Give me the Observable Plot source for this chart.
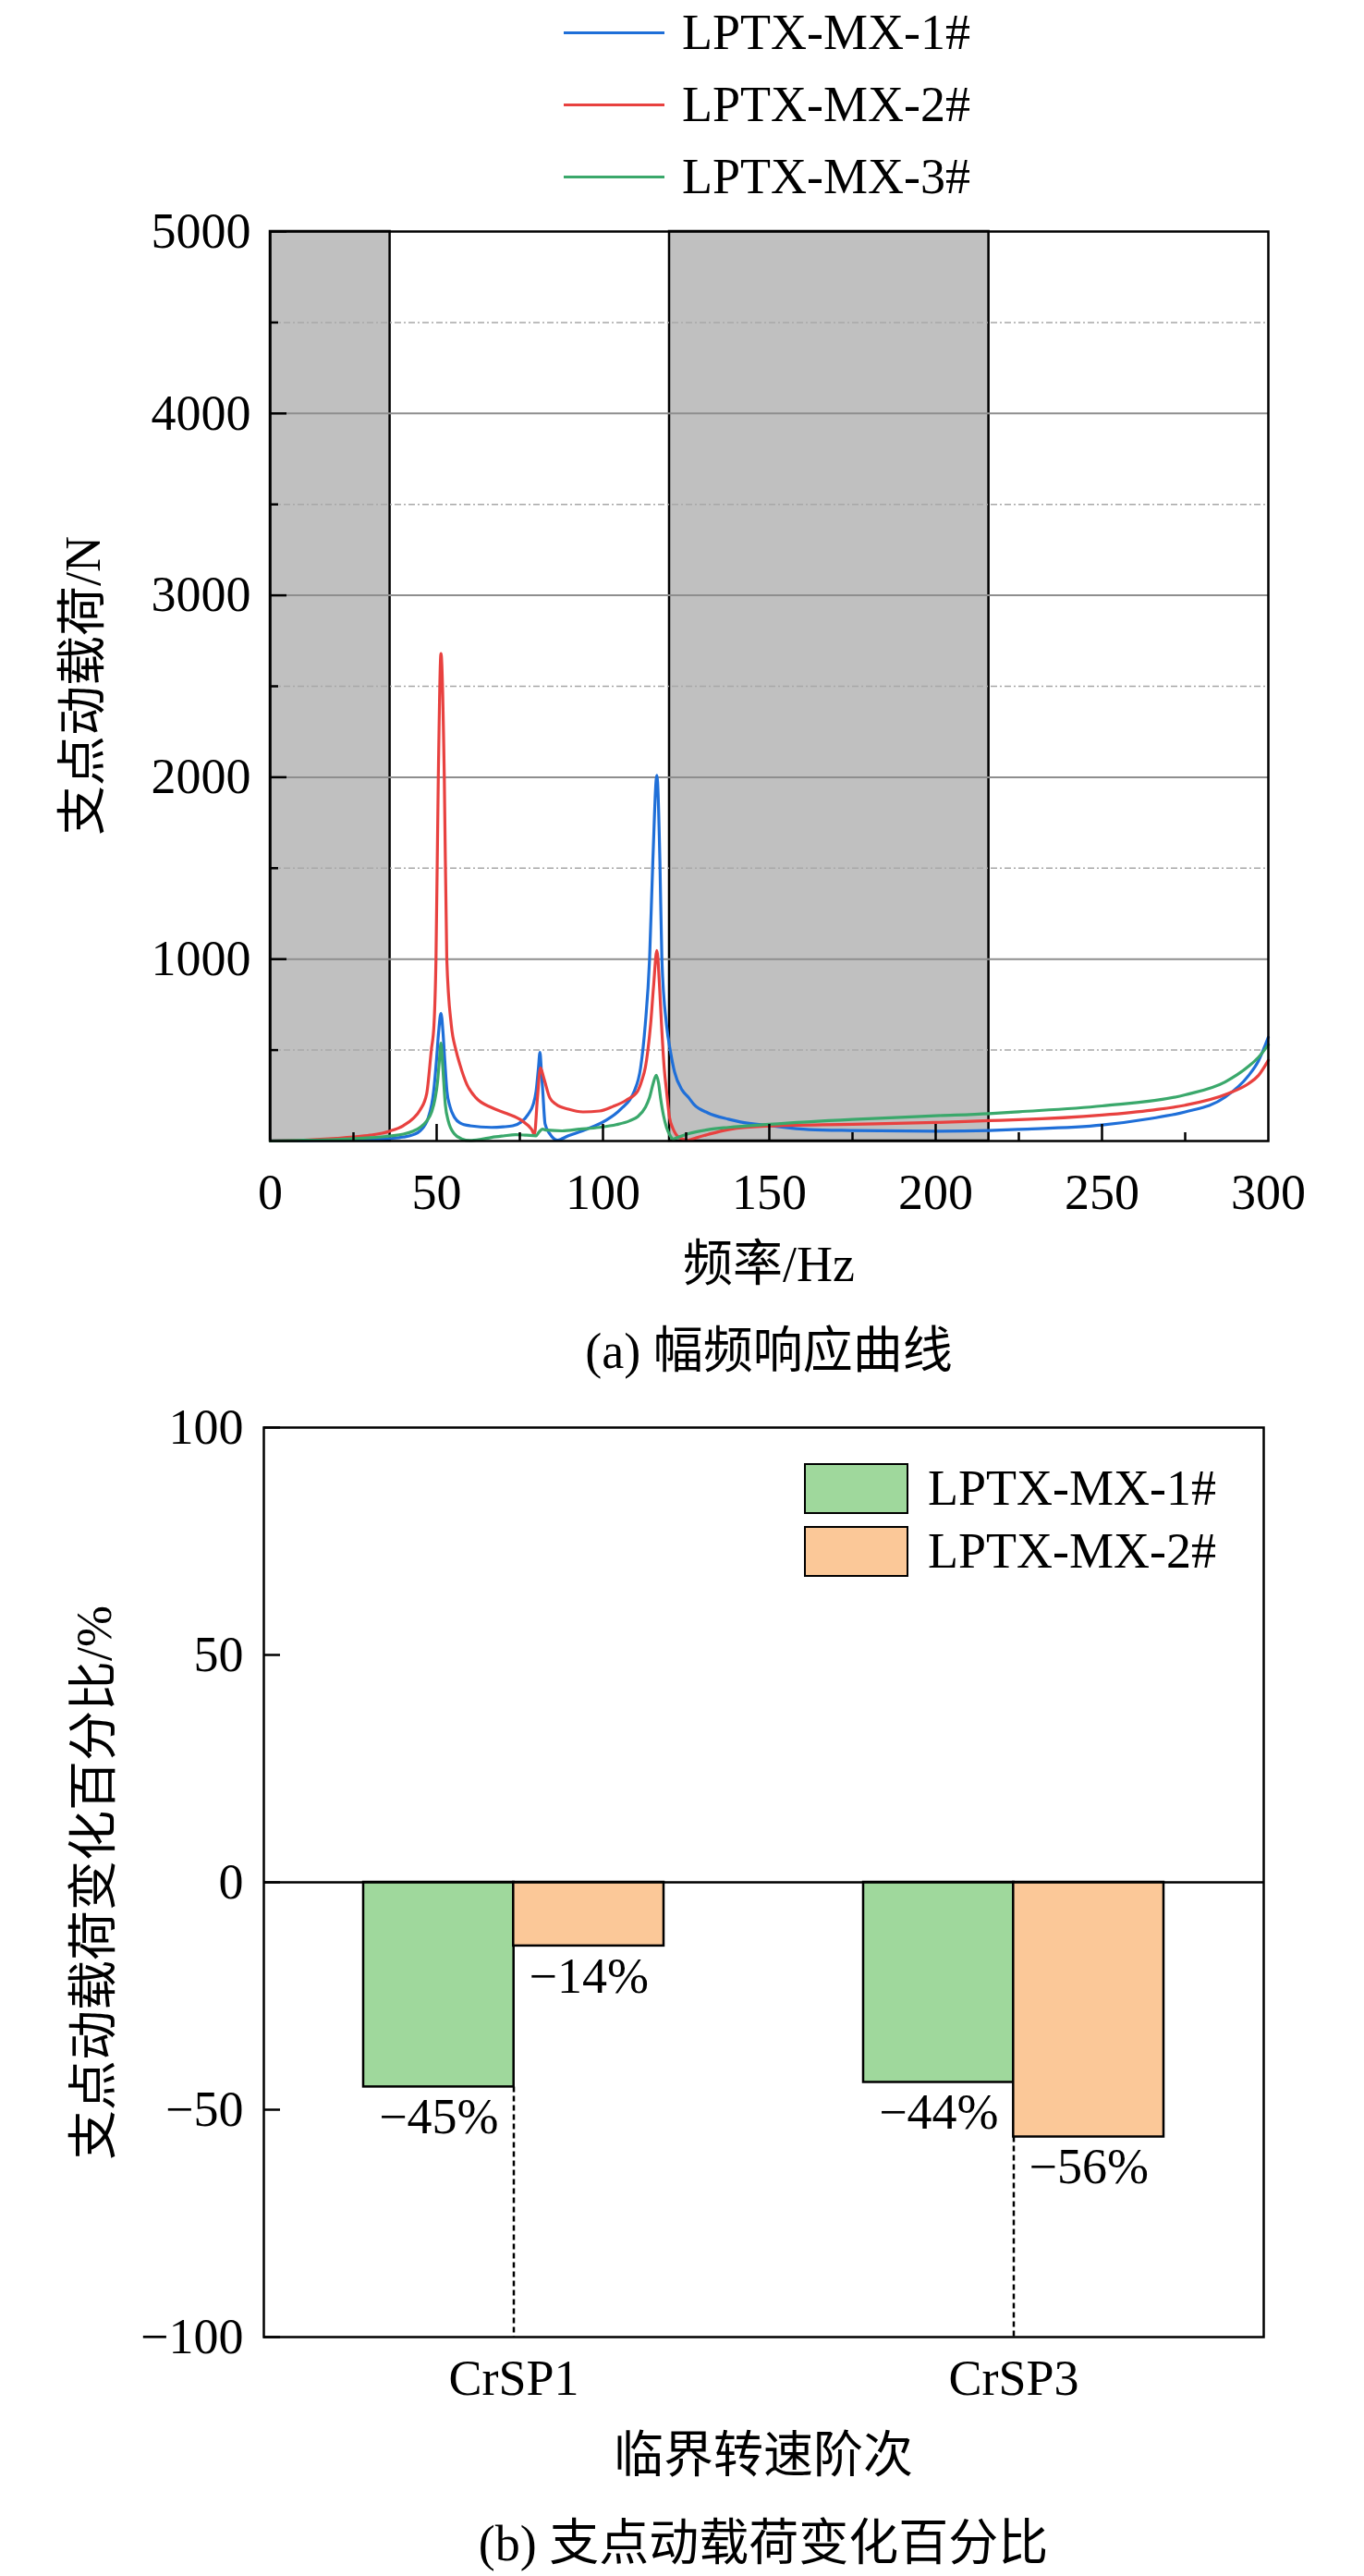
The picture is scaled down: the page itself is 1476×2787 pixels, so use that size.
<!DOCTYPE html>
<html><head><meta charset="utf-8">
<script src="https://cdn.jsdelivr.net/npm/d3@7"></script>
<script src="https://cdn.jsdelivr.net/npm/@observablehq/plot@0.6"></script>
<style>
html,body{margin:0;padding:0;background:#fff;}
#page{position:relative;width:1476px;height:2787px;overflow:hidden;font-family:"Liberation Serif","Noto Sans CJK SC",serif;color:#000;background:#fff;}
.t{position:absolute;white-space:nowrap;font-size:54px;line-height:54px;}
.t.tight{line-height:40px;}
.plot{position:absolute;left:0;}
.plot svg{overflow:visible;}
</style></head><body><div id="page"></div>
<script>
// ---------- data: (a) frequency response ----------
const seriesNames = ["LPTX-MX-1#", "LPTX-MX-2#", "LPTX-MX-3#"];
const seriesColors = ["#1f6fd8", "#e8413f", "#3aa86b"];

const blueFreq = [0,10,20,30,36,40,43,45,47.5,49.1,
  50,50.6,51.3,51.9,52.4,53.1,54,55.4,57,60,
  66.5,70,72.9,75.5,77.5,79,79.9,80.6,81.05,81.5,
  81.9,82.6,84,86.3,89.6,95.1,100.6,105.3,109.4,111.3,
  112.7,114,115,116.2,117.1,117.7,119.1,120.3,121.5,123.8,
  125.7,127.4,131.5,137.7,141.3,150,162,175,200,216,
  225,250,264,275,287,294,297,300];
const blueLoad = [0,2,4,8,14,22,35,55,129,274,
  456,600,702,600,456,274,190,129,100,84,
  75,78,84,105,147,200,274,402,487,380,
  274,93,40,5,29,65,111,175,274,402,
  638,1000,1547,2011,1547,1000,638,490,380,280,
  240,200,155,120,105,85,63,58,54,58,
  64,88,122,160,241,359,440,571];

const redFreq = [0,10,20,25,30,36,40,43,45,47,
  48.4,49.2,49.8,50.5,51.3,52.3,53.05,54.4,55.8,57,
  59.1,61.8,66.5,71.1,75.7,78.5,79.4,80.3,81.2,82.2,
  84,85.9,89.6,94,99,103,107,110.4,111.8,112.7,
  113.5,114.3,115.2,116.2,117,117.6,118.4,119.1,120,121,
  121.9,123,125.6,128,131.7,137.7,150,175,200,216,
  225,250,265,275,288,294,297,300];
const redLoad = [0,5,15,22,32,55,85,125,170,260,
  500,638,1000,2000,2680,2000,1000,638,500,420,
  311,238,184,151,111,65,38,238,402,347,
  238,202,175,160,165,190,225,274,340,402,
  500,638,850,1047,850,638,402,274,129,70,
  38,18,5,18,37,63,83,92,102,112,
  117,143,170,197,262,315,360,444];

const greenFreq = [0,10,20,30,36,40,43,45,47,48.5,
  49.5,50.3,50.8,51.3,51.8,52.6,53.5,55.4,57.5,60,
  63,66.5,70,73.8,77,79.9,80.8,81.8,83,87.7,
  93,98.8,104,108,110.5,112.7,114,115,116,116.7,
  117.3,118.2,119.1,120.2,121,122.5,125.7,131.7,137.7,150,
  175,200,216,225,250,275,287,294,297,300];
const greenLoad = [0,4,8,18,28,38,55,75,110,160,
  230,330,440,538,420,202,110,38,12,3,
  8,20,28,35,32,29,50,65,60,56,
  65,75,90,111,135,184,240,311,362,320,
  238,140,75,30,11,20,41,63,75,92,
  119,139,151,161,193,254,325,410,460,529];

const shadeStart = [0, 120];
const shadeEnd = [36, 216];
const xTicksA = [0, 50, 100, 150, 200, 250, 300];
const xMinorA = [25, 75, 125, 175, 225, 275];
const yTicksA = [1000, 2000, 3000, 4000, 5000];
const yMinorA = [500, 1500, 2500, 3500, 4500];

// ---------- data: (b) percentage change ----------
const categories = ["CrSP1", "CrSP3"];
const barSeries = ["LPTX-MX-1#", "LPTX-MX-2#"];
const barColors = ["#9fd89c", "#fbc898"];
const mx1Change = [-45, -44];
const mx2Change = [-14, -56];
const yTicksB = [-100, -50, 0, 50, 100];

// ---------- helpers ----------
const page = document.getElementById("page");
function txt(s, x, y, opts = {}) {
  const d = document.createElement("div");
  d.className = "t" + (opts.tight ? " tight" : "");
  d.textContent = s;
  d.style.left = x + "px";
  d.style.top = y + "px";
  d.style.transform = opts.rotate ? "translate(-50%,-50%) rotate(-90deg)" : (opts.left ? "translate(0,-50%)" : "translate(-50%,-50%)");
  page.appendChild(d);
  return d;
}
const minus = v => v < 0 ? "\u2212" + (-v) : String(v);
const font = "Liberation Serif, Noto Sans CJK SC, serif";

// ---------- (a) ----------
{
  const W = 1476, mL = 292, mR = 104, mT = 250, mB = 106, innerH = 984;
  const H = mT + innerH + mB, innerW = W - mL - mR;
  const shades = shadeStart.map((s, i) => ({s, e: shadeEnd[i]}));
  const lines = [[blueFreq, blueLoad], [redFreq, redLoad], [greenFreq, greenLoad]]
    .map(([f, v], k) => f.map((ff, i) => ({f: ff, v: v[i], s: seriesNames[k]})));
  const plot = Plot.plot({
    width: W, height: H, marginLeft: mL, marginRight: mR, marginTop: mT, marginBottom: mB,
    x: {domain: [0, 300]},
    y: {domain: [0, 5000]},
    style: {fontFamily: font, fontSize: "54px", color: "black", background: "transparent"},
    marks: [
      Plot.rect(shades, {x1: "s", x2: "e", y1: 0, y2: 5000, fill: "#c0c0c0", stroke: "black", strokeWidth: 2.5}),
      Plot.ruleY(yMinorA, {stroke: "#a8a8a8", strokeWidth: 1.5, strokeDasharray: "7,3,2,3"}),
      Plot.ruleY(yTicksA.slice(0, 4), {stroke: "#8e8e8e", strokeWidth: 2}),
      ...lines.map((d, k) => Plot.line(d, {x: "f", y: "v", stroke: seriesColors[k], strokeWidth: 3.2, curve: "monotone-x"})),
      Plot.tickX(xTicksA.slice(1, -1), {x: d => d, insetTop: innerH - 18, stroke: "black", strokeWidth: 2.5}),
      Plot.tickX(xMinorA, {x: d => d, insetTop: innerH - 9, stroke: "black", strokeWidth: 2.5}),
      Plot.tickY(yTicksA, {y: d => d, insetRight: innerW - 18, stroke: "black", strokeWidth: 2.5}),
      Plot.tickY(yMinorA, {y: d => d, insetRight: innerW - 9, stroke: "black", strokeWidth: 2.5}),
      Plot.axisX({ticks: xTicksA, tickSize: 0, tickPadding: 35, tickFormat: d => String(d), label: null}),
      Plot.axisY({ticks: yTicksA, tickSize: 0, tickPadding: 21, tickFormat: d => String(d), label: null}),
      Plot.frame({stroke: "black", strokeWidth: 2.5})
    ]
  });
  const wrap = document.createElement("div");
  wrap.className = "plot"; wrap.style.top = "0px";
  wrap.appendChild(plot); page.appendChild(wrap);

  // legend above
  const legY = [35, 113, 191];
  seriesNames.forEach((n, i) => {
    const l = document.createElement("div");
    l.style.cssText = `position:absolute;left:610px;top:${legY[i] - 1.5}px;width:109px;height:3px;background:${seriesColors[i]};`;
    page.appendChild(l);
    txt(n, 738, legY[i], {left: true, tight: true});
  });
  txt("支点动载荷/N", 90, 742, {rotate: true});
  txt("频率/Hz", 832, 1368);
  txt("(a) 幅频响应曲线", 832, 1462);
}

// ---------- (b) ----------
{
  const W = 1476, mL = 285, mR = 109, mT = 44, innerH = 984, mB = 100;
  const H = mT + innerH + mB, innerW = W - mL - mR;
  const pI = 0.4, pO = 0.2;
  const step = innerW / (categories.length - pI + 2 * pO);
  const bw = step * (1 - pI);
  const d1 = categories.map((c, i) => ({c, v: mx1Change[i]}));
  const d2 = categories.map((c, i) => ({c, v: mx2Change[i]}));
  const dots = categories.map((c, i) => ({c, lo: Math.min(mx1Change[i], mx2Change[i])}));
  const plot = Plot.plot({
    width: W, height: H, marginLeft: mL, marginRight: mR, marginTop: mT, marginBottom: mB,
    x: {domain: categories, paddingInner: pI, paddingOuter: pO},
    y: {domain: [-100, 100]},
    style: {fontFamily: font, fontSize: "54px", color: "black", background: "transparent"},
    marks: [
      Plot.barY(d1, {x: "c", y: "v", fill: barColors[0], stroke: "black", strokeWidth: 2.5, insetRight: bw / 2}),
      Plot.barY(d2, {x: "c", y: "v", fill: barColors[1], stroke: "black", strokeWidth: 2.5, insetLeft: bw / 2}),
      Plot.ruleX(dots, {x: "c", y1: "lo", y2: -100, stroke: "black", strokeWidth: 2.5, strokeDasharray: "6,4"}),
      Plot.ruleY([0], {stroke: "black", strokeWidth: 2.5}),
      Plot.text(d1, {x: "c", y: "v", text: d => minus(d.v) + "%", dx: -bw / 4, dy: 12, lineAnchor: "top", fontSize: 54, fill: "black"}),
      Plot.text(d2, {x: "c", y: "v", text: d => minus(d.v) + "%", dx: bw / 4, dy: 12, lineAnchor: "top", fontSize: 54, fill: "black"}),
      Plot.tickY(yTicksB, {y: d => d, insetRight: innerW - 18, stroke: "black", strokeWidth: 2.5}),
      Plot.axisX({tickSize: 0, tickPadding: 24, label: null}),
      Plot.axisY({ticks: yTicksB, tickSize: 0, tickPadding: 22, tickFormat: minus, label: null}),
      Plot.frame({stroke: "black", strokeWidth: 2.5})
    ]
  });
  const wrap = document.createElement("div");
  wrap.className = "plot"; wrap.style.top = "1500px";
  wrap.appendChild(plot); page.appendChild(wrap);

  // legend inside frame (top right)
  const boxY = [1610, 1678];
  barSeries.forEach((n, i) => {
    const b = document.createElement("div");
    b.style.cssText = `position:absolute;left:870px;top:${boxY[i] - 27.5}px;width:113px;height:55px;box-sizing:border-box;border:2.5px solid #000;background:${barColors[i]};`;
    page.appendChild(b);
    txt(n, 1004, boxY[i], {left: true});
  });
  txt("支点动载荷变化百分比/%", 102, 2037, {rotate: true});
  txt("临界转速阶次", 826, 2657);
  txt("(b) 支点动载荷变化百分比", 826, 2752);
}
</script></body></html>
